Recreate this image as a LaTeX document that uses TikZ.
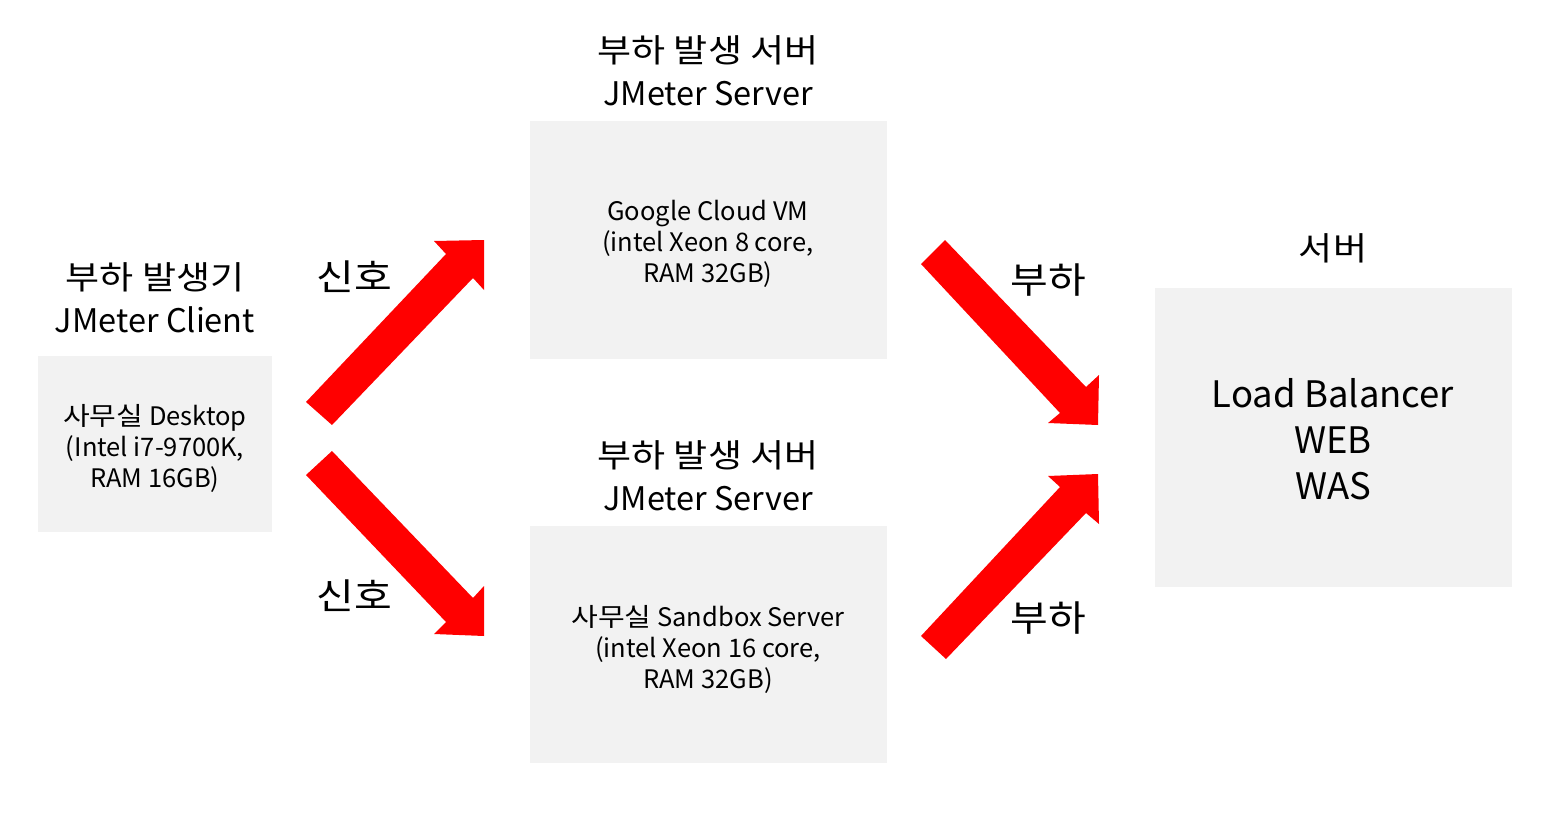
\documentclass[tikz,border=0pt]{standalone}
\usepackage{fontspec}
\setmainfont{Noto Sans CJK KR}
\newfontfamily\kr[FakeStretch=1.14]{Noto Sans CJK KR}
\definecolor{boxgray}{HTML}{F2F2F2}
\definecolor{arrowred}{HTML}{FF0000}
\begin{document}
\begin{tikzpicture}[x=1pt,y=-1pt,
  box/.style={fill=boxgray,draw=none},
  title/.style={align=center,font=\fontsize{32.5}{43}\selectfont,inner sep=0pt},
  inbox/.style={align=center,font=\fontsize{25.5}{31}\selectfont,inner sep=0pt},
  bigbox/.style={align=center,font=\fontsize{36.5}{46}\selectfont,inner sep=0pt},
  lbl/.style={font=\fontsize{36}{40}\selectfont\kr,inner sep=0pt},
  blockarrow/.style={fill=arrowred,draw=none}]
\useasboundingbox (0,0) rectangle (1547,821);
% boxes
\fill[box] (38,356) rectangle (272,532);
\fill[box] (530,121) rectangle (887,359);
\fill[box] (530,526) rectangle (887,763);
\fill[box] (1155,288) rectangle (1512,587);
% titles
\node[title] (tclient) at (155,298) {{\kr 부하 발생기}\\JMeter Client};
\node[title] (tgoogle) at (708,71) {{\kr 부하 발생 서버}\\JMeter Server};
\node[title] (tsandbox) at (708,475.5) {{\kr 부하 발생 서버}\\JMeter Server};
\node[title] (tserver) at (1333,248) {\kr 서버};
% box texts
\node[inbox] (client) at (155,448) {{\kr 사무실} Desktop\\(Intel i7-9700K,\\RAM 16GB)};
\node[inbox] (google) at (708,244) {Google Cloud VM\\(intel Xeon 8 core,\\RAM 32GB)};
\node[inbox] (sandbox) at (708,649) {{\kr 사무실} Sandbox Server\\(intel Xeon 16 core,\\RAM 32GB)};
\node[bigbox] (server) at (1333,439) {Load Balancer\\WEB\\WAS};
% labels
\node[lbl] (s1) at (354,277) {신호};
\node[lbl] (s2) at (354,596) {신호};
\node[lbl] (l1) at (1048,280) {부하};
\node[lbl] (l2) at (1048,618) {부하};
% block arrows
\fill[blockarrow] (306,402) -- (446,254) -- (434,241) -- (484,240) -- (484,290) -- (473,278) -- (332,425) -- cycle;
\fill[blockarrow] (332,451) -- (473,598) -- (484,586) -- (484,636) -- (434,634) -- (446,622) -- (306,475) -- cycle;
\fill[blockarrow] (945,240) -- (1086,387) -- (1099,375) -- (1098,425) -- (1048,423) -- (1060,413) -- (921,264) -- cycle;
\fill[blockarrow] (921,636) -- (1060,487) -- (1048,476) -- (1098,474) -- (1099,524) -- (1086,513) -- (946,659) -- cycle;
\end{tikzpicture}
\end{document}
